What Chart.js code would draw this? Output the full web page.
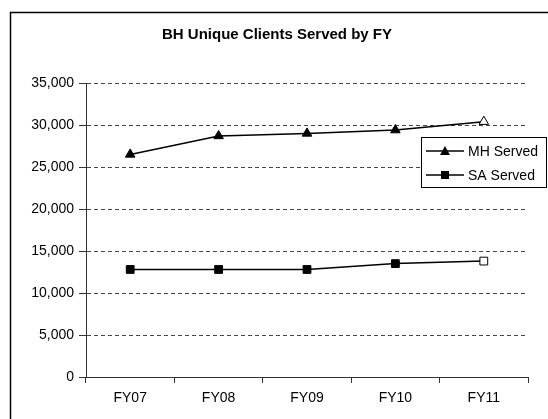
<!DOCTYPE html>
<html>
<head>
<meta charset="utf-8">
<script src="https://cdn.jsdelivr.net/npm/chart.js@4/dist/chart.umd.min.js"></script>
<style>
  html, body { margin: 0; padding: 0; background: #fff; }
  #wrap { width: 548px; height: 419px; position: relative; }
</style>
</head>
<body>
<div id="wrap"><canvas id="bhChart" width="548" height="419"></canvas></div>
<script>
// chart values
const fiscalYears = ['FY07', 'FY08', 'FY09', 'FY10', 'FY11'];
const mhServed = [26500, 28700, 29000, 29400, 30400];
const saServed = [12800, 12800, 12800, 13500, 13800];
const seriesNames = ['MH Served', 'SA Served'];
const yMax = 35000;
const yStep = 5000;

const FONT = "'Liberation Sans', Arial, sans-serif";
const AXIS_COLOR = '#333';

// last year is shown with a hollow marker
const fillFor = (arr) => arr.map((v, i) => i === arr.length - 1 ? '#fff' : '#000');

// outer frame (cropped on right/bottom, like the original)
const framePlugin = {
    id: 'frame',
    beforeDraw(chart) {
        const ctx = chart.ctx;
        ctx.save();
        ctx.fillStyle = '#fff';
        ctx.fillRect(0, 0, chart.width, chart.height);
        ctx.strokeStyle = '#000';
        ctx.lineWidth = 1.5;
        ctx.strokeRect(10.5, 12.5, chart.width + 20, chart.height + 20);
        ctx.restore();
    }
};

// boxed legend sitting over the right side of the plot
const boxLegend = {
    id: 'boxLegend',
    afterDraw(chart) {
        const ctx = chart.ctx;
        const area = chart.chartArea;
        const x = area.right - 107, y = area.top + 54, w = 125, h = 50;
        ctx.save();
        ctx.fillStyle = '#fff';
        ctx.fillRect(x, y, w, h);
        ctx.strokeStyle = '#000';
        ctx.lineWidth = 1;
        ctx.strokeRect(x + 0.5, y + 0.5, w, h);
        ctx.font = '14px ' + FONT;
        ctx.textBaseline = 'middle';
        seriesNames.forEach((name, i) => {
            const cy = y + 14 + i * 24;
            ctx.strokeStyle = '#000';
            ctx.lineWidth = 1.5;
            ctx.beginPath();
            ctx.moveTo(x + 5, cy);
            ctx.lineTo(x + 43, cy);
            ctx.stroke();
            const mx = x + 24;
            ctx.fillStyle = '#000';
            ctx.beginPath();
            if (i === 0) {
                ctx.moveTo(mx, cy - 5);
                ctx.lineTo(mx + 5, cy + 4);
                ctx.lineTo(mx - 5, cy + 4);
                ctx.closePath();
            } else {
                ctx.rect(mx - 4, cy - 4, 8, 8);
            }
            ctx.fill();
            ctx.fillText(name, x + 47, cy + 1);
        });
        ctx.restore();
    }
};

new Chart(document.getElementById('bhChart'), {
    type: 'line',
    data: {
        labels: fiscalYears,
        datasets: [
            {
                label: seriesNames[0],
                data: mhServed,
                borderColor: '#000',
                borderWidth: 1.5,
                tension: 0,
                pointStyle: 'triangle',
                pointRadius: 5.5,
                pointBackgroundColor: fillFor(mhServed),
                pointBorderColor: '#000',
                pointBorderWidth: 1
            },
            {
                label: seriesNames[1],
                data: saServed,
                borderColor: '#000',
                borderWidth: 1.5,
                tension: 0,
                pointStyle: 'rect',
                pointRadius: 5.5,
                pointBackgroundColor: fillFor(saServed),
                pointBorderColor: '#000',
                pointBorderWidth: 1
            }
        ]
    },
    options: {
        responsive: false,
        animation: false,
        layout: { padding: { left: 26, right: 20, top: 0, bottom: 0 } },
        plugins: {
            legend: { display: false },
            tooltip: { enabled: false },
            title: {
                display: true,
                text: 'BH Unique Clients Served by FY',
                color: '#000',
                font: { family: FONT, size: 15, weight: 'bold' },
                padding: { top: 26, bottom: 39 }
            }
        },
        scales: {
            x: {
                offset: true,
                grid: { offset: true, drawOnChartArea: false, tickLength: 6, tickColor: AXIS_COLOR },
                border: { color: AXIS_COLOR, width: 1 },
                ticks: { color: '#000', padding: 7, font: { family: FONT, size: 14 } },
                afterFit: (s) => { s.height = 42; }
            },
            y: {
                min: 0,
                max: yMax,
                ticks: {
                    stepSize: yStep,
                    color: '#000',
                    padding: 5,
                    font: { family: FONT, size: 14 },
                    callback: (v) => v.toLocaleString('en-US')
                },
                grid: { color: '#444', tickLength: 7, tickColor: AXIS_COLOR, tickBorderDash: [] },
                border: { color: AXIS_COLOR, width: 1, dash: [4, 3] },
                afterFit: (s) => { s.width = 60; }
            }
        }
    },
    plugins: [framePlugin, boxLegend]
});
</script>
</body>
</html>
